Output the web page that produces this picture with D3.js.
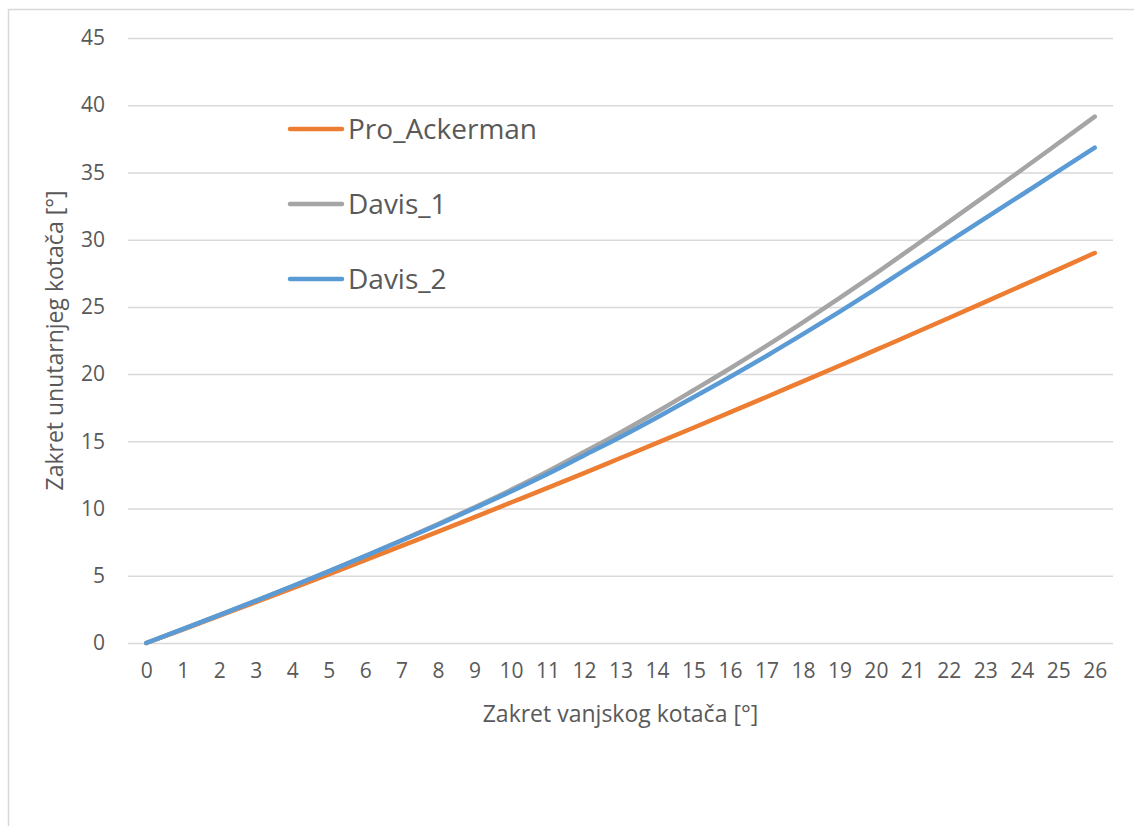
<!DOCTYPE html>
<html>
<head>
<meta charset="utf-8">
<script src="https://cdn.jsdelivr.net/npm/d3@7"></script>
<style>
  html, body { margin: 0; padding: 0; background: #fff; }
  svg { display: block; font-family: "Open Sans", "Noto Sans", sans-serif; }
</style>
</head>
<body>
<svg id="chart" width="1134" height="826"></svg>
<script>
// ---- data ----
const categories = d3.range(0, 27).map(String);
const seriesNames = ["Pro_Ackerman", "Davis_1", "Davis_2"];
const seriesColors = ["#ED7D31", "#A5A5A5", "#5B9BD5"];
const proAckerman = [0, 1.00, 2.02, 3.04, 4.07, 5.11, 6.16, 7.22, 8.28, 9.36, 10.45, 11.54, 12.64, 13.76, 14.88, 16.01, 17.15, 18.30, 19.46, 20.62, 21.80, 22.98, 24.17, 25.37, 26.58, 27.79, 29.01];
const davis1 = [0, 1.03, 2.08, 3.14, 4.22, 5.33, 6.47, 7.64, 8.85, 10.10, 11.39, 12.75, 14.20, 15.66, 17.20, 18.80, 20.42, 22.10, 23.85, 25.65, 27.50, 29.40, 31.32, 33.26, 35.20, 37.17, 39.15];
const davis2 = [0, 1.03, 2.08, 3.14, 4.22, 5.33, 6.46, 7.62, 8.80, 10.02, 11.27, 12.57, 13.95, 15.33, 16.78, 18.28, 19.79, 21.35, 22.97, 24.63, 26.35, 28.10, 29.85, 31.61, 33.34, 35.09, 36.84];
const yTicks = [0, 5, 10, 15, 20, 25, 30, 35, 40, 45];
const xTitle = "Zakret vanjskog kotača [°]";
const yTitle = "Zakret unutarnjeg kotača [°]";

const seriesValues = [proAckerman, davis1, davis2];

// ---- layout ----
const svg = d3.select("#chart");
const textColor = "#595959";
const gridColor = "#D9D9D9";
const plot = { left: 128, right: 1113, top: 38, bottom: 643 };

// chart border
svg.append("rect")
  .attr("x", 8.5).attr("y", 9.5)
  .attr("width", 1150).attr("height", 840)
  .attr("fill", "#fff").attr("stroke", gridColor).attr("stroke-width", 1.5);

const x = d3.scalePoint().domain(categories).range([plot.left, plot.right]).padding(0.5);
const y = d3.scaleLinear().domain([0, 45]).range([plot.bottom, plot.top]);

// gridlines
const grid = svg.append("g").attr("transform", `translate(${plot.left},0)`)
  .call(d3.axisLeft(y).tickValues(yTicks).tickSize(-(plot.right - plot.left)).tickFormat(""));
grid.select(".domain").remove();
grid.selectAll("line").attr("stroke", gridColor).attr("stroke-width", 1.5);

// y tick labels
const yAxis = svg.append("g").attr("transform", `translate(105,0)`)
  .call(d3.axisLeft(y).tickValues(yTicks).tickSize(0).tickPadding(0));
yAxis.select(".domain").remove();
yAxis.selectAll("text")
  .attr("fill", textColor).style("font-size", "21px")
  .style("font-family", "'Open Sans', sans-serif");

// x tick labels
const xAxis = svg.append("g").attr("transform", `translate(0,${plot.bottom})`)
  .call(d3.axisBottom(x).tickSize(0).tickPadding(20));
xAxis.select(".domain").remove();
xAxis.selectAll("text")
  .attr("fill", textColor).style("font-size", "21px")
  .style("font-family", "'Open Sans', sans-serif");

// axis titles
svg.append("text")
  .attr("x", (plot.left + plot.right) / 2).attr("y", 722)
  .attr("text-anchor", "middle").attr("fill", textColor)
  .style("font-size", "23px").text(xTitle);

svg.append("text")
  .attr("transform", `translate(63,${(plot.top + plot.bottom) / 2}) rotate(-90)`)
  .attr("text-anchor", "middle").attr("fill", textColor)
  .style("font-size", "23px").text(yTitle);

// lines
const line = d3.line()
  .x((d, i) => x(categories[i]))
  .y(d => y(d))
  .curve(d3.curveMonotoneX);

seriesValues.forEach((vals, k) => {
  svg.append("path")
    .datum(vals)
    .attr("fill", "none")
    .attr("stroke", seriesColors[k])
    .attr("stroke-width", 4.5)
    .attr("stroke-linecap", "round")
    .attr("stroke-linejoin", "round")
    .attr("d", line);
});

// legend
const legend = svg.append("g");
const legendRows = [129, 204, 279];
seriesNames.forEach((name, k) => {
  const g = legend.append("g").attr("transform", `translate(0,${legendRows[k]})`);
  g.append("line")
    .attr("x1", 290).attr("x2", 342).attr("y1", 0).attr("y2", 0)
    .attr("stroke", seriesColors[k]).attr("stroke-width", 4.5)
    .attr("stroke-linecap", "round");
  g.append("text")
    .attr("x", 348).attr("y", 0).attr("dy", "0.36em")
    .attr("fill", textColor).style("font-size", "28px")
    .text(name);
});
</script>
</body>
</html>
